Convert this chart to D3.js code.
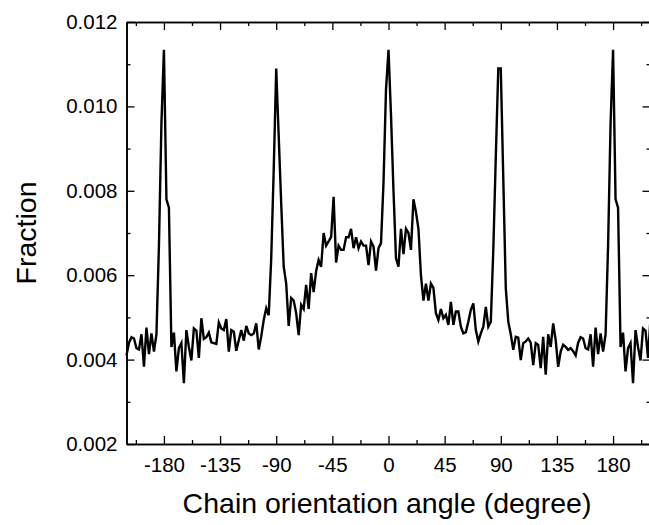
<!DOCTYPE html>
<html>
<head>
<meta charset="utf-8">
<script src="https://cdnjs.cloudflare.com/ajax/libs/d3/7.8.5/d3.min.js"></script>
<style>
  body { margin: 0; background: #fff; }
  svg text { font-family: Arial, "Liberation Sans", sans-serif; fill: #000; }
  .axis path, .axis line { stroke: #000; }
</style>
</head>
<body>
<svg id="chart"></svg>
<script>

/////////////////////////////////
// DATA
//////////////////////////////////

var angles = [
  -210, -208, -206, -204, -202, -200, -198, -196, -194, -192,
  -190, -188, -186, -184, -182, -180, -178, -176, -174, -172,
  -170, -168, -166, -164, -162, -160, -158, -156, -154, -152,
  -150, -148, -146, -144, -142, -140, -138, -136, -134, -132,
  -130, -128, -126, -124, -122, -120, -118, -116, -114, -112,
  -110, -108, -106, -104, -102, -100, -98, -96, -94, -92,
  -90, -88, -86, -84, -82, -80, -78, -76, -74, -72,
  -70, -68, -66, -64, -62, -60, -58, -56, -54, -52,
  -50, -48, -46, -44, -42, -40, -38, -36, -34, -32,
  -30, -28, -26, -24, -22, -20, -18, -16, -14, -12,
  -10, -8, -6, -4, -2, 0, 2, 4, 6, 8,
  10, 12, 14, 16, 18, 20, 22, 24, 26, 28,
  30, 32, 34, 36, 38, 40, 42, 44, 46, 48,
  50, 52, 54, 56, 58, 60, 62, 64, 66, 68,
  70, 72, 74, 76, 78, 80, 82, 84, 86, 88,
  90, 92, 94, 96, 98, 100, 102, 104, 106, 108,
  110, 112, 114, 116, 118, 120, 122, 124, 126, 128,
  130, 132, 134, 136, 138, 140, 142, 144, 146, 148,
  150, 152, 154, 156, 158, 160, 162, 164, 166, 168,
  170, 172, 174, 176, 178, 180, 182, 184, 186, 188,
  190, 192, 194, 196, 198, 200, 202, 204, 206, 208,
  210
];

var fraction = [
  0.0041, 0.0044, 0.00453, 0.0045, 0.00427, 0.00424, 0.0046, 0.00383, 0.00476, 0.00413,
  0.00462, 0.00419, 0.0046, 0.0067, 0.0096, 0.01134, 0.0078, 0.0076, 0.0043, 0.00464,
  0.00372, 0.00427, 0.00439, 0.00344, 0.0047, 0.0043, 0.00398, 0.00474, 0.00469, 0.00404,
  0.00498, 0.00449, 0.00453, 0.00464, 0.00441, 0.00439, 0.00437, 0.00488, 0.00474, 0.0047,
  0.00496, 0.00419, 0.0047, 0.00466, 0.00421, 0.00446, 0.0047, 0.00445, 0.0048, 0.00462,
  0.00458, 0.00462, 0.00486, 0.00424, 0.00455, 0.00494, 0.00522, 0.00505, 0.0064, 0.0085,
  0.0109, 0.0093, 0.0077, 0.0062, 0.0058, 0.0048, 0.00546, 0.0054, 0.0051, 0.00458,
  0.0053, 0.0052, 0.00577, 0.0052, 0.00605, 0.0056, 0.0061, 0.00636, 0.0062, 0.0070,
  0.0067, 0.0068, 0.0069, 0.00786, 0.0063, 0.0067, 0.0066, 0.0066, 0.0069, 0.0069,
  0.0071, 0.00664, 0.0069, 0.00664, 0.0068, 0.0067, 0.0067, 0.00624, 0.0068, 0.00668,
  0.00611, 0.00664, 0.00676, 0.0082, 0.0104, 0.01134, 0.0098, 0.0080, 0.0064, 0.0062,
  0.0071, 0.0065, 0.0071, 0.0070, 0.0066, 0.0078, 0.0075, 0.0071, 0.0060, 0.0054,
  0.0058, 0.0054, 0.0058, 0.0057, 0.0051, 0.00494, 0.0052, 0.00498, 0.00506, 0.00482,
  0.00537, 0.00482, 0.00514, 0.00514, 0.00478, 0.00462, 0.00465, 0.0049, 0.00518, 0.00533,
  0.0047, 0.00443, 0.00462, 0.00478, 0.00525, 0.00478, 0.0049, 0.0066, 0.0088, 0.0109,
  0.0109, 0.0083, 0.0057, 0.0049, 0.0046, 0.00423, 0.00454, 0.00452, 0.00399, 0.00439,
  0.00443, 0.0045, 0.0044, 0.00387, 0.00439, 0.00435, 0.0038, 0.00454, 0.00364, 0.0046,
  0.0043, 0.00486, 0.00446, 0.00383, 0.00419, 0.00435, 0.0043, 0.00423, 0.00427, 0.0042,
  0.0041, 0.0044, 0.00453, 0.0045, 0.00427, 0.00424, 0.0046, 0.00383, 0.00476, 0.00413,
  0.00462, 0.00419, 0.0046, 0.0067, 0.0096, 0.01134, 0.0078, 0.0076, 0.0043, 0.00464,
  0.00372, 0.00427, 0.00439, 0.00344, 0.0047, 0.0043, 0.00398, 0.00474, 0.00469, 0.00404,
  0.00498
];

// tick values
var xMajorTicks = [-180, -135, -90, -45, 0, 45, 90, 135, 180];
var xMinorTicks = [-202.5, -157.5, -112.5, -67.5, -22.5, 22.5, 67.5, 112.5, 157.5, 202.5];
var yMajorTicks = [0.002, 0.004, 0.006, 0.008, 0.010, 0.012];
var yMinorTicks = [0.003, 0.005, 0.007, 0.009, 0.011];

var xDomain = [-210, 210];
var yDomain = [0.002, 0.012];

var xTitle = "Chain orientation angle (degree)";
var yTitle = "Fraction";


/////////////////////////////////
// SIZES
//////////////////////////////////

var width = 649;
var height = 525;

var margin = { top: 22, right: -1.5, bottom: 81, left: 126.5 };
var chartWidth = width - margin.left - margin.right;
var chartHeight = height - margin.top - margin.bottom;

var svg = d3.select("#chart")
    .attr("width", width)
    .attr("height", height);

var g = svg.append("g")
    .attr("transform", "translate(" + margin.left + "," + margin.top + ")");


/////////////////////////////////
// SCALES
//////////////////////////////////

var x = d3.scaleLinear().domain(xDomain).range([0, chartWidth]);
var y = d3.scaleLinear().domain(yDomain).range([chartHeight, 0]);

// plain hyphen for negatives, like the original
var xFormat = function(d) { return String(d); };


/////////////////////////////////
// AXES (ticks point inward, box on all four sides)
//////////////////////////////////

function styleAxis(sel) {
    sel.select(".domain").attr("stroke-width", 1.6);
    sel.selectAll(".tick line").attr("stroke-width", 1.3);
}

// bottom
g.append("g").attr("class", "axis")
    .attr("transform", "translate(0," + chartHeight + ")")
    .call(d3.axisBottom(x).tickValues(xMajorTicks).tickSize(-8).tickSizeOuter(0).tickPadding(13)
        .tickFormat(xFormat))
    .call(styleAxis)
    .selectAll("text").attr("font-size", 20.5);

g.append("g").attr("class", "axis")
    .attr("transform", "translate(0," + chartHeight + ")")
    .call(d3.axisBottom(x).tickValues(xMinorTicks).tickSize(-4).tickSizeOuter(0).tickFormat(""))
    .call(styleAxis);

// top
g.append("g").attr("class", "axis")
    .call(d3.axisTop(x).tickValues(xMajorTicks).tickSize(-8).tickSizeOuter(0).tickFormat(""))
    .call(styleAxis);

g.append("g").attr("class", "axis")
    .call(d3.axisTop(x).tickValues(xMinorTicks).tickSize(-4).tickSizeOuter(0).tickFormat(""))
    .call(styleAxis);

// left
g.append("g").attr("class", "axis")
    .call(d3.axisLeft(y).tickValues(yMajorTicks).tickSize(-8).tickSizeOuter(0).tickPadding(9)
        .tickFormat(d3.format(".3f")))
    .call(styleAxis)
    .selectAll("text").attr("font-size", 20.5);

g.append("g").attr("class", "axis")
    .call(d3.axisLeft(y).tickValues(yMinorTicks).tickSize(-4).tickSizeOuter(0).tickFormat(""))
    .call(styleAxis);

// right
g.append("g").attr("class", "axis")
    .attr("transform", "translate(" + chartWidth + ",0)")
    .call(d3.axisRight(y).tickValues(yMajorTicks).tickSize(-8).tickSizeOuter(0).tickFormat(""))
    .call(styleAxis);

g.append("g").attr("class", "axis")
    .attr("transform", "translate(" + chartWidth + ",0)")
    .call(d3.axisRight(y).tickValues(yMinorTicks).tickSize(-4).tickSizeOuter(0).tickFormat(""))
    .call(styleAxis);


/////////////////////////////////
// DRAW LINE
//////////////////////////////////

var points = angles.map(function(a, i) { return { angle: a, value: fraction[i] }; });

var line = d3.line()
    .x(function(d) { return x(d.angle); })
    .y(function(d) { return y(d.value); });

g.append("path")
    .datum(points)
    .attr("fill", "none")
    .attr("stroke", "#000")
    .attr("stroke-width", 2.4)
    .attr("stroke-linejoin", "miter")
    .attr("d", line);


/////////////////////////////////
// TITLES
//////////////////////////////////

svg.append("text")
    .attr("x", 387)
    .attr("y", 513)
    .attr("text-anchor", "middle")
    .attr("font-size", 28.5)
    .text(xTitle);

svg.append("text")
    .attr("transform", "translate(36,233) rotate(-90)")
    .attr("text-anchor", "middle")
    .attr("font-size", 28.5)
    .text(yTitle);

</script>
</body>
</html>
